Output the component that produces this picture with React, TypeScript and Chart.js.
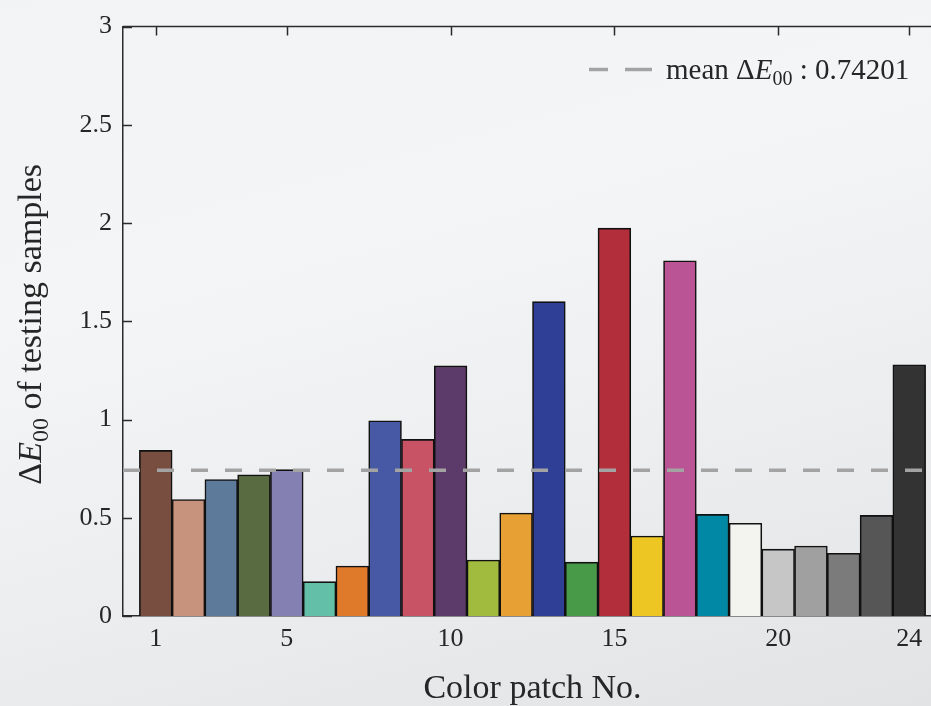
import React, { useEffect, useRef } from "react";
import { Chart, registerables } from "chart.js";

Chart.register(...registerables);

// ---- data ----
const patchNumbers = [1, 2, 3, 4, 5, 6, 7, 8, 9, 10, 11, 12, 13, 14, 15, 16, 17, 18, 19, 20, 21, 22, 23, 24];
const deltaE00 = [
  0.843, 0.593, 0.695, 0.718, 0.745, 0.175, 0.254, 0.994, 0.899, 1.273, 0.285, 0.524,
  1.6, 0.274, 1.974, 0.407, 1.808, 0.517, 0.472, 0.34, 0.356, 0.319, 0.512, 1.278,
];
const patchColors = [
  "#774e3f", "#c7937d", "#5d7a9a", "#586b41", "#8480b2", "#63bfa7", "#df7a2b", "#4759a5",
  "#c85365", "#5c3a6a", "#a1bb3e", "#e6a033", "#2f3f95", "#489a48", "#b12e3a", "#edc623",
  "#ba5495", "#0088a4", "#f3f3f0", "#c6c6c6", "#a0a0a0", "#7b7b7b", "#565656", "#333333",
];
const meanDeltaE = 0.74201;
const xTickValues = [1, 5, 10, 15, 20, 24];
const xRange = [0, 25];
const yRange = [0, 3];
const yStep = 0.5;
const xTitle = "Color patch No.";
const yTitleRest = " of testing samples";
const legendPrefix = "mean ";
const legendSuffix = " : " + meanDeltaE.toFixed(5);

const FONT = "'Liberation Serif', 'Times New Roman', serif";
const AXIS = "#2b2b2b";
const TEXT = "#262626";

type Piece = { t: string; italic?: boolean; sub?: boolean };

function drawPieces(ctx: CanvasRenderingContext2D, pieces: Piece[], size: number, x: number, y: number, align: "left" | "center") {
  const fontFor = (p: Piece) =>
    `${p.italic ? "italic " : ""}${p.sub ? Math.round(size * 0.7) : size}px ${FONT}`;
  let total = 0;
  for (const p of pieces) {
    ctx.font = fontFor(p);
    total += ctx.measureText(p.t).width;
  }
  let cx = align === "center" ? x - total / 2 : x;
  ctx.textBaseline = "alphabetic";
  ctx.textAlign = "left";
  for (const p of pieces) {
    ctx.font = fontFor(p);
    ctx.fillText(p.t, cx, y + (p.sub ? size * 0.22 : 0));
    cx += ctx.measureText(p.t).width;
  }
}

const overlayPlugin = {
  id: "overlay",
  afterDraw(chart: any) {
    const { ctx, chartArea, scales } = chart;
    const { left, top, right } = chartArea;
    ctx.save();
    // top box edge and inward ticks
    ctx.strokeStyle = AXIS;
    ctx.lineWidth = 1.5;
    ctx.beginPath();
    ctx.moveTo(left, top);
    ctx.lineTo(right, top);
    for (const t of scales.x.ticks) {
      const px = Math.round(scales.x.getPixelForValue(t.value)) + 0.5;
      ctx.moveTo(px, top);
      ctx.lineTo(px, top + 9);
    }
    for (const t of scales.y.ticks) {
      const py = Math.round(scales.y.getPixelForValue(t.value)) + 0.5;
      ctx.moveTo(left, py);
      ctx.lineTo(left + 9, py);
    }
    ctx.stroke();

    // y-axis title (rotated, with subscript)
    ctx.fillStyle = TEXT;
    ctx.save();
    ctx.translate(41, (chartArea.top + chartArea.bottom) / 2 + 3);
    ctx.rotate(-Math.PI / 2);
    drawPieces(ctx, [{ t: "Δ" }, { t: "E", italic: true }, { t: "00", sub: true }, { t: yTitleRest }], 34, 0, 0, "center");
    ctx.restore();

    // legend
    const ly = top + 43;
    ctx.save();
    ctx.strokeStyle = "#a3a3a3";
    ctx.lineWidth = 3.5;
    ctx.setLineDash([19, 17, 27, 200]);
    ctx.beginPath();
    ctx.moveTo(589, ly);
    ctx.lineTo(652, ly);
    ctx.stroke();
    ctx.restore();
    ctx.fillStyle = TEXT;
    drawPieces(
      ctx,
      [{ t: legendPrefix + "Δ" }, { t: "E", italic: true }, { t: "00", sub: true }, { t: legendSuffix }],
      29,
      666,
      ly + 9,
      "left"
    );
    ctx.restore();
  },
};

export default function App() {
  const canvasRef = useRef<HTMLCanvasElement | null>(null);

  useEffect(() => {
    const canvas = canvasRef.current;
    if (!canvas) return;
    const chart = new Chart(canvas, {
      type: "bar",
      data: {
        datasets: [
          {
            type: "line",
            label: "mean",
            data: xRange.map((x) => ({ x, y: meanDeltaE })),
            borderColor: "#a3a3a3",
            borderWidth: 3.5,
            borderDash: [17, 17],
            pointRadius: 0,
            fill: false,
            order: 0,
          } as any,
          {
            type: "bar",
            label: "ΔE00",
            data: patchNumbers.map((x, i) => ({ x, y: deltaE00[i] })),
            backgroundColor: patchColors,
            borderColor: "#111111",
            borderWidth: 1.6,
            barPercentage: 1,
            categoryPercentage: 1,
            order: 1,
          } as any,
        ],
      },
      options: {
        responsive: false,
        animation: false,
        devicePixelRatio: 1,
        layout: { padding: { left: 0, top: 20, right: 18, bottom: 0 } },
        plugins: { legend: { display: false }, tooltip: { enabled: false }, title: { display: false } },
        scales: {
          x: {
            type: "linear",
            position: "bottom",
            min: xRange[0],
            max: xRange[1],
            offset: false,
            afterBuildTicks: (s: any) => {
              s.ticks = xTickValues.map((v) => ({ value: v }));
            },
            afterFit: (s: any) => {
              s.height = 90;
            },
            grid: { display: false, drawTicks: false, offset: false },
            border: { display: true, color: AXIS, width: 1.5 },
            ticks: {
              color: TEXT,
              font: { family: FONT, size: 26 },
              padding: 8,
              maxRotation: 0,
              autoSkip: false,
              callback: (v: any) => String(v),
            },
            title: {
              display: true,
              text: xTitle,
              color: TEXT,
              font: { family: FONT, size: 34, lineHeight: 1 },
              padding: { top: 0, bottom: 0 },
            },
          },
          y: {
            type: "linear",
            min: yRange[0],
            max: yRange[1],
            afterFit: (s: any) => {
              s.width = 123;
            },
            grid: { display: false, drawTicks: false },
            border: { display: true, color: AXIS, width: 1.5 },
            ticks: {
              stepSize: yStep,
              color: TEXT,
              font: { family: FONT, size: 26 },
              padding: 11,
              callback: (v: any) => String(Number(v)),
            },
          },
        },
      } as any,
      plugins: [overlayPlugin],
    });
    return () => chart.destroy();
  }, []);

  return (
    <div
      style={{
        position: "fixed",
        left: 0,
        top: 0,
        width: 931,
        height: 706,
        overflow: "hidden",
        background: "linear-gradient(165deg, #f2f3f4 0%, #f4f5f6 35%, #eeeff0 60%, #e2e3e4 100%)",
      }}
    >
      <canvas ref={canvasRef} width={960} height={706} style={{ display: "block" }} />
    </div>
  );
}
